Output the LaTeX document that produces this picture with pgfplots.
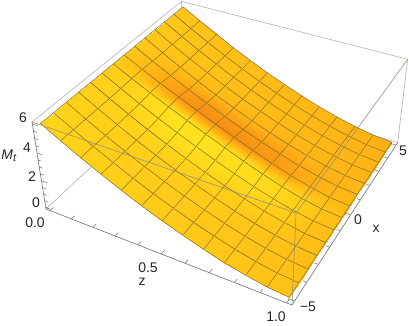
\documentclass[border=0pt]{standalone}
\usepackage{pgfplots}
\usepackage{pgfplotstable}
\usepackage{fontspec}
\setmainfont{Liberation Sans}
\pgfplotsset{compat=1.18}
\pgfmathdeclarefunction{pD}{3}{\pgfmathparse{1-0.12*(#1+0.02)/1.04+0.215*(#2+5.2)/10.4-0.0664*(#3+0.125)/6.25}}
\pgfmathdeclarefunction{pX}{3}{\pgfmathparse{(46+210.96*(#1+0.02)/1.04+178.5*(#2+5.2)/10.4-16.12*(#3+0.125)/6.25)/pD(#1,#2,#3)}}
\pgfmathdeclarefunction{pY}{3}{\pgfmathparse{326-(209+59.4*(#1+0.02)/1.04-112.3*(#2+5.2)/10.4-95.1*(#3+0.125)/6.25)/pD(#1,#2,#3)}}
\pgfplotstableread[row sep=\\]{
z x M G\\
0 -5 5.94 212\\ 0 -4.231 5.94 211\\ 0 -3.462 5.94 209\\ 0 -2.692 5.94 208\\ 0 -1.923 5.94 207\\ 0 -1.154 5.94 205\\ 0 -0.385 5.94 204\\ 0 0.385 5.94 196\\ 0 1.154 5.94 197\\ 0 1.923 5.94 199\\ 0 2.692 5.94 198\\ 0 3.462 5.94 197\\ 0 4.231 5.94 195\\ 0 5 5.94 194\\
0.0833 -5 5.20 210\\ 0.0833 -4.231 5.20 209\\ 0.0833 -3.462 5.20 208\\ 0.0833 -2.692 5.20 207\\ 0.0833 -1.923 5.21 208\\ 0.0833 -1.154 5.23 209\\ 0.0833 -0.385 5.27 208\\ 0.0833 0.385 5.27 184\\ 0.0833 1.154 5.22 187\\ 0.0833 1.923 5.20 195\\ 0.0833 2.692 5.20 196\\ 0.0833 3.462 5.20 195\\ 0.0833 4.231 5.20 194\\ 0.0833 5 5.20 192\\
0.1667 -5 4.49 209\\ 0.1667 -4.231 4.49 207\\ 0.1667 -3.462 4.49 206\\ 0.1667 -2.692 4.49 207\\ 0.1667 -1.923 4.51 210\\ 0.1667 -1.154 4.55 215\\ 0.1667 -0.385 4.63 215\\ 0.1667 0.385 4.63 166\\ 0.1667 1.154 4.54 172\\ 0.1667 1.923 4.50 190\\ 0.1667 2.692 4.49 194\\ 0.1667 3.462 4.49 194\\ 0.1667 4.231 4.49 192\\ 0.1667 5 4.49 191\\
0.25 -5 3.82 207\\ 0.25 -4.231 3.82 206\\ 0.25 -3.462 3.82 205\\ 0.25 -2.692 3.82 207\\ 0.25 -1.923 3.84 213\\ 0.25 -1.154 3.90 222\\ 0.25 -0.385 4.02 223\\ 0.25 0.385 4.04 148\\ 0.25 1.154 3.89 158\\ 0.25 1.923 3.83 186\\ 0.25 2.692 3.82 191\\ 0.25 3.462 3.82 192\\ 0.25 4.231 3.82 190\\ 0.25 5 3.82 189\\
0.3333 -5 3.19 205\\ 0.3333 -4.231 3.19 204\\ 0.3333 -3.462 3.19 204\\ 0.3333 -2.692 3.20 206\\ 0.3333 -1.923 3.22 214\\ 0.3333 -1.154 3.29 225\\ 0.3333 -0.385 3.44 226\\ 0.3333 0.385 3.45 141\\ 0.3333 1.154 3.28 152\\ 0.3333 1.923 3.20 183\\ 0.3333 2.692 3.19 190\\ 0.3333 3.462 3.19 190\\ 0.3333 4.231 3.19 189\\ 0.3333 5 3.19 187\\
0.4167 -5 2.60 204\\ 0.4167 -4.231 2.60 202\\ 0.4167 -3.462 2.60 202\\ 0.4167 -2.692 2.61 205\\ 0.4167 -1.923 2.63 212\\ 0.4167 -1.154 2.71 224\\ 0.4167 -0.385 2.86 225\\ 0.4167 0.385 2.87 140\\ 0.4167 1.154 2.69 151\\ 0.4167 1.923 2.62 181\\ 0.4167 2.692 2.60 188\\ 0.4167 3.462 2.60 189\\ 0.4167 4.231 2.60 187\\ 0.4167 5 2.60 186\\
0.5 -5 2.06 202\\ 0.5 -4.231 2.06 201\\ 0.5 -3.462 2.06 200\\ 0.5 -2.692 2.07 203\\ 0.5 -1.923 2.09 211\\ 0.5 -1.154 2.16 222\\ 0.5 -0.385 2.30 224\\ 0.5 0.385 2.31 141\\ 0.5 1.154 2.14 151\\ 0.5 1.923 2.07 180\\ 0.5 2.692 2.06 186\\ 0.5 3.462 2.06 187\\ 0.5 4.231 2.06 185\\ 0.5 5 2.06 184\\
0.5833 -5 1.56 200\\ 0.5833 -4.231 1.56 199\\ 0.5833 -3.462 1.56 199\\ 0.5833 -2.692 1.56 201\\ 0.5833 -1.923 1.58 209\\ 0.5833 -1.154 1.64 220\\ 0.5833 -0.385 1.76 222\\ 0.5833 0.385 1.78 146\\ 0.5833 1.154 1.63 154\\ 0.5833 1.923 1.57 179\\ 0.5833 2.692 1.56 185\\ 0.5833 3.462 1.56 185\\ 0.5833 4.231 1.56 184\\ 0.5833 5 1.56 182\\
0.6667 -5 1.11 199\\ 0.6667 -4.231 1.11 197\\ 0.6667 -3.462 1.11 197\\ 0.6667 -2.692 1.11 199\\ 0.6667 -1.923 1.13 207\\ 0.6667 -1.154 1.17 218\\ 0.6667 -0.385 1.26 220\\ 0.6667 0.385 1.27 153\\ 0.6667 1.154 1.16 158\\ 0.6667 1.923 1.12 179\\ 0.6667 2.692 1.11 183\\ 0.6667 3.462 1.11 184\\ 0.6667 4.231 1.11 182\\ 0.6667 5 1.11 181\\
0.75 -5 0.71 197\\ 0.75 -4.231 0.71 196\\ 0.75 -3.462 0.71 195\\ 0.75 -2.692 0.71 197\\ 0.75 -1.923 0.72 203\\ 0.75 -1.154 0.75 213\\ 0.75 -0.385 0.80 215\\ 0.75 0.385 0.81 163\\ 0.75 1.154 0.74 165\\ 0.75 1.923 0.72 180\\ 0.75 2.692 0.71 182\\ 0.75 3.462 0.71 182\\ 0.75 4.231 0.71 180\\ 0.75 5 0.71 179\\
0.8333 -5 0.38 195\\ 0.8333 -4.231 0.38 194\\ 0.8333 -3.462 0.38 193\\ 0.8333 -2.692 0.38 194\\ 0.8333 -1.923 0.39 198\\ 0.8333 -1.154 0.40 205\\ 0.8333 -0.385 0.42 206\\ 0.8333 0.385 0.43 175\\ 0.8333 1.154 0.40 174\\ 0.8333 1.923 0.38 180\\ 0.8333 2.692 0.38 181\\ 0.8333 3.462 0.38 180\\ 0.8333 4.231 0.38 179\\ 0.8333 5 0.38 177\\
0.9167 -5 0.13 194\\ 0.9167 -4.231 0.13 192\\ 0.9167 -3.462 0.13 191\\ 0.9167 -2.692 0.13 191\\ 0.9167 -1.923 0.13 192\\ 0.9167 -1.154 0.14 194\\ 0.9167 -0.385 0.14 194\\ 0.9167 0.385 0.14 182\\ 0.9167 1.154 0.13 180\\ 0.9167 1.923 0.13 181\\ 0.9167 2.692 0.13 180\\ 0.9167 3.462 0.13 179\\ 0.9167 4.231 0.13 177\\ 0.9167 5 0.13 176\\
1 -5 0 192\\ 1 -4.231 0 191\\ 1 -3.462 0 189\\ 1 -2.692 0 188\\ 1 -1.923 0 188\\ 1 -1.154 0 188\\ 1 -0.385 0 187\\ 1 0.385 0 183\\ 1 1.154 0 181\\ 1 1.923 0 180\\ 1 2.692 0 178\\ 1 3.462 0 177\\ 1 4.231 0 175\\ 1 5 0 174\\
}\surfdata
\definecolor{boxgrey}{RGB}{178,178,178}
\definecolor{overgrey}{RGB}{150,148,120}
\definecolor{axgrey}{RGB}{110,110,110}
\definecolor{meshc}{RGB}{136,114,40}
\newcommand{\seg}[7]{\addplot3[#1] table[row sep=\\, x expr={pX(\thisrow{z},\thisrow{x},\thisrow{M})}, y expr={pY(\thisrow{z},\thisrow{x},\thisrow{M})}, z expr={\thisrow{M}}] {z x M\\ #2 #3 #4\\ #5 #6 #7\\};}
\begin{document}
\begin{tikzpicture}
\useasboundingbox (0,0) rectangle (409pt,326pt);
\begin{axis}[at={(0,0)},anchor=south west,scale only axis,width=409pt,height=326pt,
  view={0}{90},xmin=0,xmax=409,ymin=0,ymax=326,zmin=-1,zmax=7,hide axis,clip=false,
  colormap={mt}{rgb255(0pt)=(238,112,20) rgb255(60pt)=(255,172,20) rgb255(122pt)=(255,232,30)}]
% box edges behind the surface
\seg{boxgrey,line width=0.6pt}{-0.02}{-5.2}{-0.125}{-0.02}{5.2}{-0.125}
\seg{boxgrey,line width=0.6pt}{-0.02}{5.2}{-0.125}{-0.02}{5.2}{6.125}
\seg{boxgrey,line width=0.6pt}{-0.02}{5.2}{-0.125}{1.02}{5.2}{-0.125}
\seg{boxgrey,line width=0.6pt}{1.02}{5.2}{-0.125}{1.02}{5.2}{6.125}
\seg{boxgrey,line width=0.6pt}{-0.02}{-5.2}{6.125}{-0.02}{5.2}{6.125}
\seg{boxgrey,line width=0.6pt}{-0.02}{5.2}{6.125}{1.02}{5.2}{6.125}
% surface
\addplot3[surf,shader=faceted interp,faceted color=meshc,line width=0.5pt,mesh/rows=13,mesh/cols=14,
  point meta=\thisrow{G},point meta min=110,point meta max=232]
  table[x expr={pX(\thisrow{z},\thisrow{x},\thisrow{M})},y expr={pY(\thisrow{z},\thisrow{x},\thisrow{M})},z expr={\thisrow{M}}] {\surfdata};
% box edges in front of the surface
\seg{overgrey,line width=0.6pt}{-0.02}{-5.2}{6.125}{1.02}{-5.2}{6.125}
\seg{overgrey,line width=0.6pt}{1.02}{-5.2}{6.125}{1.02}{5.2}{6.125}
\seg{overgrey,line width=0.6pt}{1.02}{-5.2}{-0.125}{1.02}{-5.2}{6.125}
% axes
\seg{axgrey,line width=0.6pt}{-0.02}{-5.2}{-0.125}{1.02}{-5.2}{-0.125}
\seg{axgrey,line width=0.6pt}{1.02}{-5.2}{-0.125}{1.02}{5.2}{-0.125}
\seg{axgrey,line width=0.6pt}{-0.02}{-5.2}{-0.125}{-0.02}{-5.2}{6.125}
% z ticks
\pgfplotsinvokeforeach{0,0.1,0.2,0.3,0.4,0.6,0.7,0.8,0.9,1}{\seg{axgrey,line width=0.5pt}{#1}{-5.2}{-0.125}{#1}{-5.0}{-0.125}}
\seg{axgrey,line width=0.5pt}{0.5}{-5.2}{-0.125}{0.5}{-4.95}{-0.125}
% x ticks
\pgfplotsinvokeforeach{-4,-3,-2,-1,1,2,3,4}{\seg{axgrey,line width=0.5pt}{1.02}{#1}{-0.125}{1.005}{#1}{-0.125}}
\pgfplotsinvokeforeach{-5,0,5}{\seg{axgrey,line width=0.5pt}{1.02}{#1}{-0.125}{0.995}{#1}{-0.125}}
% M ticks
\pgfplotsinvokeforeach{0.5,1,1.5,2.5,3,3.5,4.5,5,5.5}{\seg{axgrey,line width=0.5pt}{-0.02}{-5.2}{#1}{-0.005}{-5.2}{#1}}
\pgfplotsinvokeforeach{0,2,4,6}{\seg{axgrey,line width=0.5pt}{-0.02}{-5.2}{#1}{0.005}{-5.2}{#1}}
\end{axis}
\begin{scope}[every node/.style={font=\fontsize{14}{16}\selectfont,text=black!85,inner sep=0pt}]
\node at (23pt,208pt) {6};
\node at (27pt,178pt) {4};
\node at (32pt,149pt) {2};
\node at (36pt,123pt) {0};
\node at (9pt,170pt) {\textit{M}\raisebox{-0.3ex}{\fontsize{11}{11}\selectfont\textit{t}}};
\node at (35pt,103pt) {0.0};
\node at (148pt,58pt) {0.5};
\node at (142pt,44pt) {z};
\node at (276pt,9pt) {1.0};
\node at (308pt,19pt) {−5};
\node at (358pt,106pt) {0};
\node at (376pt,97pt) {x};
\node at (403pt,175pt) {5};
\end{scope}
\end{tikzpicture}
\end{document}
